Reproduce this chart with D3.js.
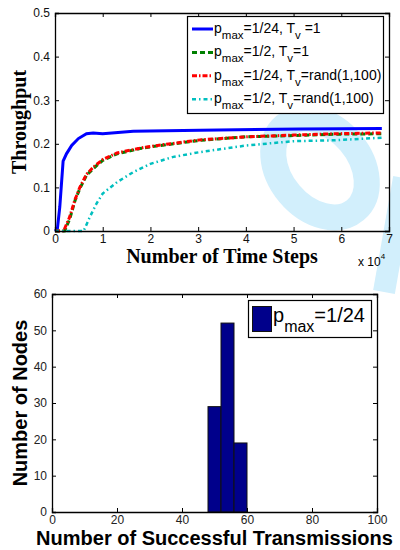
<!DOCTYPE html>
<html>
<head>
<meta charset="utf-8">
<script src="https://cdn.jsdelivr.net/npm/d3@7"></script>
<style>
  body { margin: 0; background: #fff; }
  svg { display: block; }
</style>
</head>
<body>
<div id="chart"></div>
<script>
// throughput curves, x in units of 1e4 time steps
const stepsBlue   = [0, 0.05, 0.1, 0.17, 0.24, 0.35, 0.49, 0.66, 0.8, 1.0, 1.64, 3.04, 5.14, 6.85];
const tputBlue    = [0, 0.005, 0.055, 0.16, 0.177, 0.196, 0.212, 0.223, 0.225, 0.223, 0.229, 0.231, 0.234, 0.235];
const stepsGreen  = [0, 0.2, 0.31, 0.42, 0.52, 0.66, 0.8, 1.0, 1.3, 1.78, 2.0, 3.04, 4.0, 5.0, 5.84, 6.85];
const tputGreen   = [0, 0, 0.028, 0.07, 0.097, 0.128, 0.143, 0.162, 0.177, 0.189, 0.193, 0.208, 0.216, 0.219, 0.222, 0.223];
const stepsRed    = [0, 0.18, 0.3, 0.42, 0.52, 0.66, 0.8, 1.0, 1.3, 1.78, 2.0, 3.04, 4.0, 5.0, 5.84, 6.85];
const tputRed     = [0, 0, 0.03, 0.072, 0.1, 0.13, 0.146, 0.164, 0.179, 0.19, 0.194, 0.209, 0.216, 0.22, 0.223, 0.225];
const stepsCyan   = [0, 0.6, 0.73, 0.87, 1.0, 1.3, 1.64, 2.0, 2.48, 3.04, 4.0, 5.0, 5.84, 6.85];
const tputCyan    = [0, 0, 0.032, 0.063, 0.086, 0.112, 0.135, 0.154, 0.17, 0.181, 0.196, 0.206, 0.208, 0.214];
const seriesNames = ["1/24|1", "1/2|1", "1/24|rand(1,100)", "1/2|rand(1,100)"];

const topXTicks = [0, 1, 2, 3, 4, 5, 6, 7];
const topYTicks = [0, 0.1, 0.2, 0.3, 0.4, 0.5];

// histogram of successful transmissions
const binEdges  = [48, 52, 56, 60];
const binCounts = [29, 52, 19];
const histXTicks = [0, 20, 40, 60, 80, 100];
const histYTicks = [0, 10, 20, 30, 40, 50, 60];

const W = 400, H = 550;
const svg = d3.select("#chart").append("svg").attr("width", W).attr("height", H);

// faint watermark behind everything (rough shapes)
const wm = svg.append("g").attr("fill", "none").attr("stroke", "#d2effc");
wm.append("ellipse")
  .attr("transform", "translate(320,168) rotate(-40)")
  .attr("rx", 40).attr("ry", 55)
  .attr("stroke-width", 26);
wm.append("line")
  .attr("x1", 404).attr("y1", 178).attr("x2", 384).attr("y2", 292)
  .attr("stroke-width", 22);

const sans = "Liberation Sans, Arial, Helvetica, sans-serif";
const serif = "Liberation Serif, Times New Roman, serif";

// draws a MATLAB style box with inward ticks on all four sides
function boxAxes(g, x, y, xt, yt, fmtX, fmtY, padX) {
  const [x0, x1] = x.range(), [y0, y1] = y.range();
  g.append("g").attr("transform", `translate(0,${y0})`)
    .call(d3.axisBottom(x).tickValues(xt).tickSize(-4).tickPadding(padX).tickFormat(fmtX));
  g.append("g").attr("transform", `translate(0,${y1})`)
    .call(d3.axisTop(x).tickValues(xt).tickSize(-4).tickFormat(""));
  g.append("g").attr("transform", `translate(${x0},0)`)
    .call(d3.axisLeft(y).tickValues(yt).tickSize(-4).tickPadding(5).tickFormat(fmtY));
  g.append("g").attr("transform", `translate(${x1},0)`)
    .call(d3.axisRight(y).tickValues(yt).tickSize(-4).tickFormat(""));
  g.selectAll(".domain").attr("stroke", "#000").attr("stroke-width", 1.3);
  g.selectAll(".tick line").attr("stroke", "#000");
  g.selectAll(".tick text").style("font-family", sans).style("font-size", "12px").attr("fill", "#111");
}

// ---------- top chart ----------
const xTop = d3.scaleLinear().domain([0, 7]).range([55, 389]);
const yTop = d3.scaleLinear().domain([0, 0.5]).range([231, 13]);
const topG = svg.append("g");

const curves = [
  { xs: stepsBlue,  ys: tputBlue,  color: "#0000ff", width: 3,   dash: null },
  { xs: stepsGreen, ys: tputGreen, color: "#008000", width: 3,   dash: "5,3" },
  { xs: stepsRed,   ys: tputRed,   color: "#ff0000", width: 3,   dash: "5,2,1.5,2" },
  { xs: stepsCyan,  ys: tputCyan,  color: "#00bfbf", width: 2.5, dash: "4,3,1.5,3" }
];
const line = d3.line().x(d => xTop(d[0])).y(d => yTop(d[1]));

curves.forEach(c => {
  topG.append("path")
    .datum(c.xs.map((v, i) => [v, c.ys[i]]))
    .attr("d", line)
    .attr("fill", "none")
    .attr("stroke", c.color)
    .attr("stroke-width", c.width)
    .attr("stroke-dasharray", c.dash);
});

boxAxes(topG, xTop, yTop, topXTicks, topYTicks, d3.format("d"), d => d === 0 ? "0" : d3.format(".1f")(d), 3);

topG.append("text")
  .attr("transform", `translate(26,${(13 + 231) / 2}) rotate(-90)`)
  .attr("text-anchor", "middle")
  .style("font-family", serif).style("font-weight", "bold").style("font-size", "20px")
  .text("Throughput");

topG.append("text")
  .attr("x", (55 + 389) / 2).attr("y", 263)
  .attr("text-anchor", "middle")
  .style("font-family", serif).style("font-weight", "bold").style("font-size", "20px")
  .text("Number of Time Steps");

const mult = topG.append("text").attr("x", 358).attr("y", 266)
  .style("font-family", sans).style("font-size", "12px");
mult.append("tspan").text("x 10");
mult.append("tspan").attr("dy", -7).style("font-size", "8px").text("4");

// legend
const lg = topG.append("g");
lg.append("rect").attr("x", 187.5).attr("y", 16.5).attr("width", 196).attr("height", 97)
  .attr("fill", "#fff").attr("stroke", "#000").attr("stroke-width", 1.2);
curves.forEach((c, i) => {
  const ly = 29 + i * 23.4;
  lg.append("line").attr("x1", 192).attr("x2", 213).attr("y1", ly).attr("y2", ly)
    .attr("stroke", c.color).attr("stroke-width", c.width).attr("stroke-dasharray", c.dash);
  const [p, tv] = seriesNames[i].split("|");
  const t = lg.append("text").attr("x", 214).attr("y", ly + 4)
    .style("font-family", sans).style("font-size", "14px");
  t.append("tspan").text("p");
  t.append("tspan").attr("dy", 6).style("font-size", "11.5px").text("max");
  t.append("tspan").attr("dy", -6).text("=" + p + ", T");
  t.append("tspan").attr("dy", 6).style("font-size", "11.5px").text("v");
  t.append("tspan").attr("dy", -6).text((i === 0 ? " =" : "=") + tv);
});

// ---------- bottom chart ----------
const xBot = d3.scaleLinear().domain([0, 100]).range([52, 377]);
const yBot = d3.scaleLinear().domain([0, 60]).range([512, 294]);
const botG = svg.append("g");

botG.selectAll("rect.bar")
  .data(binCounts)
  .join("rect")
  .attr("class", "bar")
  .attr("x", (d, i) => xBot(binEdges[i]))
  .attr("width", (d, i) => xBot(binEdges[i + 1]) - xBot(binEdges[i]))
  .attr("y", d => yBot(d))
  .attr("height", d => yBot(0) - yBot(d))
  .attr("fill", "#00008b")
  .attr("stroke", "#111")
  .attr("stroke-width", 1);

boxAxes(botG, xBot, yBot, histXTicks, histYTicks, d3.format("d"), d3.format("d"), 3);
botG.selectAll(".tick text").attr("fill", "#222");

botG.append("text")
  .attr("transform", `translate(27,${(294 + 512) / 2}) rotate(-90)`)
  .attr("text-anchor", "middle")
  .style("font-family", sans).style("font-weight", "bold").style("font-size", "20px")
  .text("Number of Nodes");

botG.append("text")
  .attr("x", (52 + 377) / 2).attr("y", 545)
  .attr("text-anchor", "middle")
  .style("font-family", sans).style("font-weight", "bold").style("font-size", "20px")
  .text("Number of Successful Transmissions");

const lg2 = botG.append("g");
lg2.append("rect").attr("x", 248.5).attr("y", 300.5).attr("width", 123).attr("height", 37)
  .attr("fill", "#fff").attr("stroke", "#000").attr("stroke-width", 1.2);
lg2.append("rect").attr("x", 252.5).attr("y", 306.5).attr("width", 19).attr("height", 25)
  .attr("fill", "#00008b").attr("stroke", "#111");
const t2 = lg2.append("text").attr("x", 273).attr("y", 322)
  .style("font-family", sans).style("font-size", "20px");
t2.append("tspan").text("p");
t2.append("tspan").attr("dy", 10).style("font-size", "16px").text("max");
t2.append("tspan").attr("dy", -10).text("=1/24");
</script>
</body>
</html>
